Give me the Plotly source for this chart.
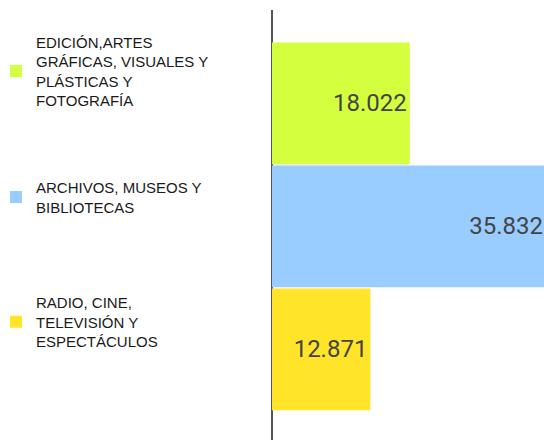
import plotly.graph_objects as go

# ---- data ----
categories = [
    "EDICIÓN,ARTES GRÁFICAS, VISUALES Y PLÁSTICAS Y FOTOGRAFÍA",
    "ARCHIVOS, MUSEOS Y BIBLIOTECAS",
    "RADIO, CINE, TELEVISIÓN Y ESPECTÁCULOS",
]
legend_labels = [
    "EDICIÓN,ARTES<br>GRÁFICAS, VISUALES Y<br>PLÁSTICAS Y<br>FOTOGRAFÍA",
    "ARCHIVOS, MUSEOS Y<br>BIBLIOTECAS",
    "RADIO, CINE,<br>TELEVISIÓN Y<br>ESPECTÁCULOS",
]
values = [18022, 35832, 12871]
colors = ["#d4ff3f", "#99ccff", "#ffe42a"]

W, H = 544, 440
ML, MT, MB, MR = 272, 10, 0, 0
plot_h = H - MT - MB
legend_centers_px = [71, 197, 322]
legend_names = ["legend", "legend2", "legend3"]

fig = go.Figure()
for i, (cat, lab, val, col) in enumerate(zip(categories, legend_labels, values, colors)):
    fig.add_trace(go.Bar(
        y=[cat], x=[val], orientation="h",
        name=lab,
        marker=dict(color=col, line=dict(width=0)),
        texttemplate="%{x:,}",
        textposition="inside", insidetextanchor="end", textangle=0,
        insidetextfont=dict(family="Roboto", size=24, color="#444444"),
        legend=legend_names[i],
        hoverinfo="skip",
    ))

layout_legends = {}
for i, ln in enumerate(legend_names):
    layout_legends[ln] = dict(
        x=-1 - 4 / (W - ML - MR), xanchor="left",
        y=(H - MB - legend_centers_px[i]) / plot_h, yanchor="middle",
        font=dict(family="Liberation Sans, Arial", size=15, color="#1a1a1a"),
        bgcolor="rgba(0,0,0,0)", borderwidth=0,
    )

fig.update_layout(
    width=W, height=H,
    margin=dict(l=ML, r=MR, t=MT, b=MB, autoexpand=False),
    paper_bgcolor="white", plot_bgcolor="white",
    separators=",.",
    barmode="overlay", bargap=0.01,
    showlegend=True,
    **layout_legends,
)
fig.update_xaxes(
    range=[0, 35570], showticklabels=False, showgrid=False,
    zeroline=True, zerolinecolor="#555555", zerolinewidth=2,
    showline=False, fixedrange=True,
)
fig.update_yaxes(
    type="category", categoryorder="array", categoryarray=categories,
    range=[2.736, -0.76], showticklabels=False, showgrid=False,
    showline=False, zeroline=False, fixedrange=True,
)

fig.write_html(
    "out.html",
    config={"displayModeBar": False},
    post_script="document.body.style.margin='0';document.body.style.overflow='hidden';",
)
